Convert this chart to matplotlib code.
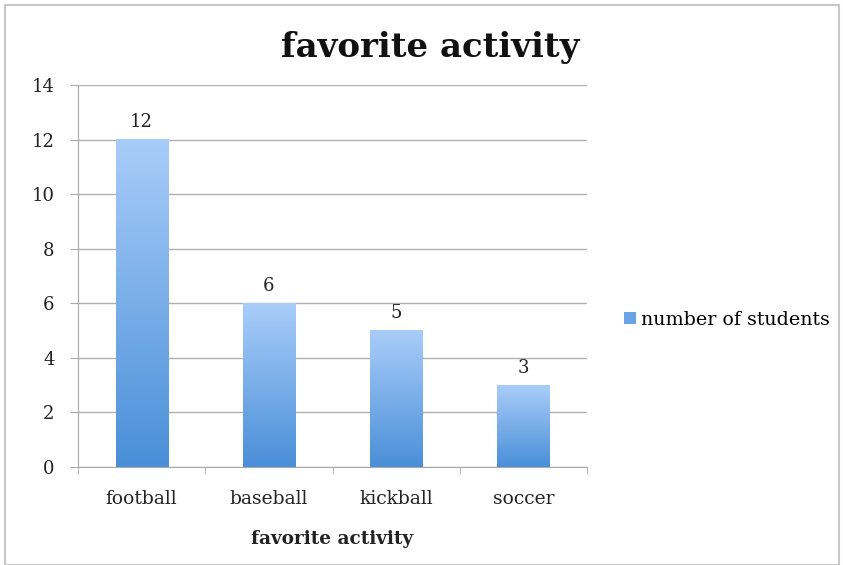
import matplotlib
matplotlib.use("Agg")
import matplotlib.pyplot as plt
import numpy as np
from matplotlib.patches import Rectangle
from matplotlib.colors import LinearSegmentedColormap

categories = ["football", "baseball", "kickball", "soccer"]
values = [12, 6, 5, 3]
series_name = "number of students"
title = "favorite activity"
xlabel = "favorite activity"
yticks = [0, 2, 4, 6, 8, 10, 12, 14]

plt.rcParams['font.family'] = ['DejaVu Serif']

fig = plt.figure(figsize=(8.43, 5.65), dpi=100)
ax = fig.add_axes([78/843, 1-467/565, (587-78)/843, (467-85)/565])

cmap = LinearSegmentedColormap.from_list("g", ["#4a8fd8", "#a9cdf9"])
x = np.arange(len(categories))
bw = 0.41
bars = ax.bar(x, values, width=bw, color="#7fb2ee", zorder=2, label=series_name)
grad = np.linspace(0, 1, 256).reshape(-1, 1)
for b in bars:
    x0, y0 = b.get_x(), b.get_y()
    w, h = b.get_width(), b.get_height()
    ax.imshow(grad, cmap=cmap, origin="lower", aspect="auto",
              extent=(x0, x0 + w, y0, y0 + h), zorder=3)
    b.set_facecolor("none")
    b.set_edgecolor("none")

for xi, v in zip(x, values):
    ax.annotate(str(v), (xi, v), xytext=(0, 6), textcoords="offset points",
                ha="center", va="bottom", fontsize=13, color="#222222")

ax.set_xlim(-0.5, len(categories) - 0.5)
ax.set_ylim(0, 14)
ax.set_yticks(yticks)
ax.set_yticklabels([str(t) for t in yticks], fontsize=13, color="#222222")
ax.set_xticks(x)
ax.set_xticklabels(categories, fontsize=13.5, color="#222222")
ax.tick_params(axis="x", length=0, pad=16.5)
ax.set_xticks(np.arange(-0.5, len(categories), 1), minor=True)
ax.tick_params(axis="x", which="minor", length=5, color="#aaaaaa")
ax.tick_params(axis="y", length=6, color="#aaaaaa", pad=11)
ax.grid(axis="y", color="#b0b0b0", linewidth=1, zorder=0)
ax.set_axisbelow(True)
for s in ["top", "right"]:
    ax.spines[s].set_visible(False)
for s in ["left", "bottom"]:
    ax.spines[s].set_color("#aaaaaa")
ax.set_xlabel(xlabel, fontsize=13.3, fontweight="bold", labelpad=16, color="#222222")

fig.text(430/843, 1-47.5/565, title, ha="center", va="center", fontsize=24.5,
         fontweight="bold", color="#111111")

leg_handle = Rectangle((0, 0), 1, 1, facecolor="#6aa3e6", edgecolor="none")
fig.legend([leg_handle], [series_name], loc="center left",
           bbox_to_anchor=(607/843, 1-320/565), frameon=False, fontsize=13.7,
           handlelength=0.6, handleheight=0.6, handletextpad=0.3)

fig.patches.append(Rectangle((5/843, 0), (839-5)/843, 1-5/565, transform=fig.transFigure,
                             fill=False, edgecolor="#c8c8c8", linewidth=1.5))

fig.savefig("out.png", dpi=100)
